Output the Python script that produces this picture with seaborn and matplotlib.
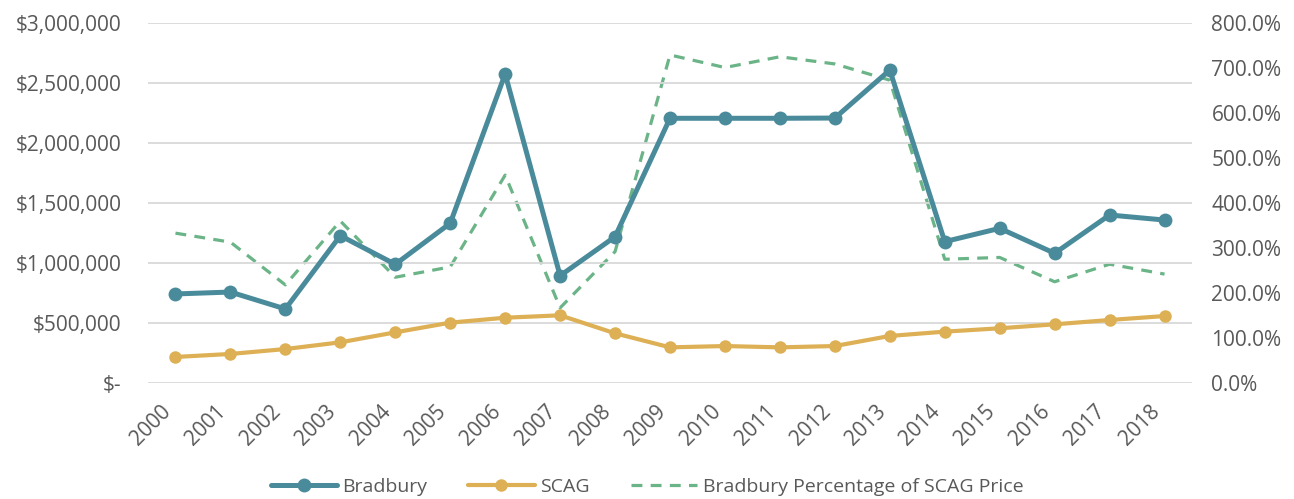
import numpy as np
import pandas as pd
import seaborn as sns
import matplotlib
matplotlib.use("Agg")
import matplotlib.pyplot as plt
from matplotlib.ticker import FuncFormatter, FixedLocator
from matplotlib.lines import Line2D

# ---- data ----
years = ["2000", "2001", "2002", "2003", "2004", "2005", "2006", "2007", "2008", "2009",
         "2010", "2011", "2012", "2013", "2014", "2015", "2016", "2017", "2018"]
bradbury = [742000, 758000, 617000, 1228000, 989000, 1331000, 2575000, 894000, 1219000, 2206000,
            2206000, 2206000, 2208000, 2608000, 1178000, 1289000, 1081000, 1400000, 1358000]
scag = [217000, 242000, 283000, 339000, 422000, 503000, 544000, 564000, 414000, 297000,
        308000, 297000, 308000, 392000, 428000, 456000, 489000, 525000, 558000]
pct_of_scag = [3.33, 3.13, 2.18, 3.60, 2.35, 2.58, 4.62, 1.67, 2.92, 7.29,
               7.01, 7.25, 7.09, 6.73, 2.75, 2.79, 2.25, 2.64, 2.42]

series_labels = ["Bradbury", "SCAG", "Bradbury Percentage of SCAG Price"]

TEAL = "#4A8B9B"
GOLD = "#DEB055"
GREEN = "#6BB487"
GRID = "#D9D9D9"
TXT = "#595959"
FS_TICK = 15
FS_LEG = 14

sns.set_theme(style="white")
plt.rcParams["font.family"] = ["Open Sans", "DejaVu Sans"]

df = pd.DataFrame({"pos": np.arange(len(years)), "year": years,
                   "Bradbury": bradbury, "SCAG": scag, "pct": pct_of_scag})

fig = plt.figure(figsize=(12.94, 4.99), dpi=100)
ax = fig.add_subplot(111)
fig.subplots_adjust(left=148/1294, right=1192/1294, top=1-23/499, bottom=1-383/499)
ax2 = ax.twinx()

# secondary (dashed) series
sns.lineplot(data=df, x="pos", y="pct", ax=ax2, color=GREEN, linewidth=2.3,
             legend=False)
ax2.lines[-1].set_dashes((3.4, 2.6))

# primary series
sns.lineplot(data=df, x="pos", y="Bradbury", ax=ax, color=TEAL, linewidth=3.6,
             marker="o", markersize=10, markeredgewidth=0, legend=False)
sns.lineplot(data=df, x="pos", y="SCAG", ax=ax, color=GOLD, linewidth=3.0,
             marker="o", markersize=9, markeredgewidth=0, legend=False)

ax.set_zorder(ax2.get_zorder() + 1)
ax.patch.set_visible(False)

# axes limits & ticks
ax.set_xlim(-0.5, len(years) - 0.5)
ax.set_ylim(0, 3000000)
ax2.set_ylim(0, 8)
ax.yaxis.set_major_locator(FixedLocator(np.arange(0, 3000001, 500000)))
ax2.yaxis.set_major_locator(FixedLocator(np.arange(0, 8.01, 1)))

def money(v, p):
    if v == 0:
        return "$-"
    return "${:,.0f}".format(v)

ax.yaxis.set_major_formatter(FuncFormatter(money))
ax2.yaxis.set_major_formatter(FuncFormatter(lambda v, p: "{:.1f}%".format(v * 100)))

ax.set_xticks(df["pos"])
ax.set_xticklabels(years, rotation=45, ha="right", rotation_mode="default")

ax.set_xlabel("")
ax.set_ylabel("")
ax2.set_ylabel("")

ax.grid(axis="y", color=GRID, linewidth=1.3)
ax.grid(axis="x", visible=False)
ax2.grid(False)
for a in (ax, ax2):
    for s in a.spines.values():
        s.set_visible(False)

ax.tick_params(axis="y", length=0, pad=19, labelsize=FS_TICK, labelcolor=TXT)
ax2.tick_params(axis="y", length=0, pad=14, labelsize=FS_TICK, labelcolor=TXT)
ax.tick_params(axis="x", length=0, pad=13, labelsize=FS_TICK, labelcolor=TXT)

handles = [
    Line2D([], [], color=TEAL, linewidth=3.6, marker="o", markersize=10, markeredgewidth=0),
    Line2D([], [], color=GOLD, linewidth=3.0, marker="o", markersize=9, markeredgewidth=0),
    Line2D([], [], color=GREEN, linewidth=2.3, dashes=(3.4, 2.6)),
]
leg = fig.legend(handles, series_labels, loc="center", bbox_to_anchor=(0.5, 12/499),
                 ncol=3, frameon=False, handlelength=3.4, handletextpad=0.3,
                 columnspacing=2.1, fontsize=FS_LEG)
for t in leg.get_texts():
    t.set_color(TXT)

fig.savefig("out.png", dpi=100)
